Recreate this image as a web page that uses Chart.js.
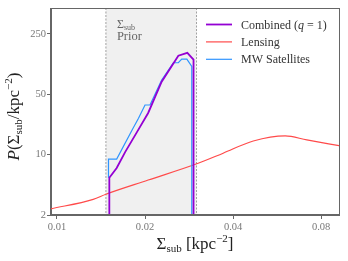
<!DOCTYPE html>
<html>
<head>
<meta charset="utf-8">
<script src="https://cdn.jsdelivr.net/npm/chart.js@4/dist/chart.umd.min.js"></script>
<style>
  body { margin: 0; background: #ffffff; }
  canvas { display: block; }
</style>
</head>
<body>
<canvas id="myChart" width="348" height="261"></canvas>
<script>
// Tick values for both log axes
var xTicks = [0.01, 0.02, 0.04, 0.08];
var yTicks = [2, 10, 50, 250];

// Bounds of the Sigma_sub prior (shaded band)
var priorRange = [0.0147, 0.0300];

// Combined (q = 1)
var combinedX = [0.0151, 0.0151, 0.0160, 0.0171, 0.0187, 0.0205, 0.0228, 0.0260, 0.0279, 0.0293, 0.0293];
var combinedY = [1, 5.4, 7.0, 10.7, 17.9, 30.4, 70, 140, 151, 126, 1];

// Lensing
var lensingX = [0.0095, 0.0133, 0.0147, 0.0205, 0.0304, 0.0370, 0.0469, 0.0603, 0.0715, 0.0925];
var lensingY = [2.35, 3.04, 3.48, 5.08, 7.95, 10.4, 14.4, 16.5, 14.8, 12.7];

// MW Satellites
var satX = [0.0150, 0.0150, 0.0160, 0.0182, 0.0190, 0.0200, 0.0208, 0.0228, 0.0250, 0.0260, 0.0267, 0.0278, 0.0289, 0.0289];
var satY = [5.4, 8.9, 8.9, 20.2, 26.4, 37.6, 37.6, 73.4, 116, 116, 128, 128, 105, 1];

var serif = "'Liberation Serif', 'DejaVu Serif', serif";

//Turns two arrays into {x, y} points
function toPoints(xs, ys) {
    var out = [];
    for (var i = 0; i < xs.length; i++) {
        out.push({ x: xs[i], y: ys[i] });
    }
    return out;
}

//Draws a run of text pieces with different fonts / offsets
///align: "left" or "center"
function drawRuns(ctx, x, y, runs, align) {
    var total = 0;
    runs.forEach(function (r) {
        ctx.font = r.f;
        r.w = ctx.measureText(r.t).width;
        total += r.w;
    });
    var cx = align == "center" ? x - total / 2 : x;
    runs.forEach(function (r) {
        ctx.font = r.f;
        ctx.fillText(r.t, cx, y + (r.dy || 0));
        cx += r.w;
    });
}

var decorPlugin = {
    id: "decor",
    beforeDatasetsDraw: function (chart) {
        var ctx = chart.ctx;
        var area = chart.chartArea;
        var xs = chart.scales.x;
        var x0 = xs.getPixelForValue(priorRange[0]);
        var x1 = xs.getPixelForValue(priorRange[1]);

        ctx.save();
        ctx.fillStyle = "#f0f0f0";
        ctx.fillRect(x0, area.top, x1 - x0, area.bottom - area.top);

        ctx.strokeStyle = "#8a8a8a";
        ctx.lineWidth = 0.8;
        ctx.setLineDash([2, 1.5]);
        [x0, x1].forEach(function (px) {
            ctx.beginPath();
            ctx.moveTo(px, area.top);
            ctx.lineTo(px, area.bottom);
            ctx.stroke();
        });
        ctx.setLineDash([]);

        ctx.fillStyle = "#666666";
        ctx.textAlign = "left";
        ctx.textBaseline = "alphabetic";
        drawRuns(ctx, x0 + 11, 28, [
            { t: "Σ", f: "12px " + serif },
            { t: "sub", f: "8px " + serif, dy: 2 }
        ], "left");
        ctx.font = "12.5px " + serif;
        ctx.fillText("Prior", x0 + 11, 40);
        ctx.restore();
    },
    afterDraw: function (chart) {
        var ctx = chart.ctx;
        var area = chart.chartArea;
        ctx.save();

        //Axes box
        ctx.strokeStyle = "#666666";
        ctx.lineWidth = 1;
        ctx.strokeRect(Math.round(area.left) - 0.5, Math.round(area.top) + 0.5,
            Math.round(area.right - area.left) + 1, Math.round(area.bottom - area.top) - 1);

        //Legend
        var items = [
            { color: "#9400d3", width: 1.8, runs: [
                { t: "Combined (", f: "12px " + serif },
                { t: "q", f: "italic 12px " + serif },
                { t: " = 1)", f: "12px " + serif }
            ] },
            { color: "#ff4a4a", width: 1.2, runs: [{ t: "Lensing", f: "12px " + serif }] },
            { color: "#2f95ff", width: 1.2, runs: [{ t: "MW Satellites", f: "12px " + serif }] }
        ];
        ctx.textAlign = "left";
        ctx.textBaseline = "alphabetic";
        items.forEach(function (it, i) {
            var ly = 24.5 + i * 17.4;
            ctx.strokeStyle = it.color;
            ctx.lineWidth = it.width;
            ctx.beginPath();
            ctx.moveTo(206, ly);
            ctx.lineTo(232, ly);
            ctx.stroke();
            ctx.fillStyle = "#333333";
            drawRuns(ctx, 241, ly + 4, it.runs, "left");
        });

        //Axis titles
        ctx.fillStyle = "#222222";
        drawRuns(ctx, (area.left + area.right) / 2, 249, [
            { t: "Σ", f: "17px " + serif },
            { t: "sub", f: "11px " + serif, dy: 3 },
            { t: " [kpc", f: "17px " + serif },
            { t: "−2", f: "11px " + serif, dy: -7 },
            { t: "]", f: "17px " + serif }
        ], "center");

        ctx.translate(19, (area.top + area.bottom) / 2 + 5);
        ctx.rotate(-Math.PI / 2);
        drawRuns(ctx, 0, 0, [
            { t: "P", f: "italic 17px " + serif },
            { t: "(Σ", f: "17px " + serif },
            { t: "sub", f: "11px " + serif, dy: 3 },
            { t: "/kpc", f: "17px " + serif },
            { t: "−2", f: "11px " + serif, dy: -7 },
            { t: ")", f: "17px " + serif }
        ], "center");
        ctx.restore();
    }
};

var chart = new Chart("myChart", {
    type: "line",
    data: {
        datasets: [{
            label: "Combined (q = 1)",
            data: toPoints(combinedX, combinedY),
            borderColor: "#9400d3",
            borderWidth: 1.8
        }, {
            label: "MW Satellites",
            data: toPoints(satX, satY),
            borderColor: "#2f95ff",
            borderWidth: 1.2
        }, {
            label: "Lensing",
            data: toPoints(lensingX, lensingY),
            borderColor: "#ff4a4a",
            borderWidth: 1.2,
            cubicInterpolationMode: "monotone"
        }]
    },
    options: {
        responsive: false,
        animation: false,
        devicePixelRatio: 1,
        elements: {
            point: { radius: 0 },
            line: { tension: 0, fill: false }
        },
        layout: { padding: { left: 0, right: 9, top: 8, bottom: 0 } },
        plugins: {
            legend: { display: false },
            tooltip: { enabled: false }
        },
        scales: {
            x: {
                type: "logarithmic",
                min: 0.00954,
                max: 0.0921,
                afterBuildTicks: function (s) {
                    s.ticks = xTicks.map(function (v) { return { value: v }; });
                },
                afterFit: function (s) { s.height = 46; },
                ticks: {
                    autoSkip: false,
                    maxRotation: 0,
                    padding: 2,
                    color: "#777777",
                    font: { family: serif, size: 10.5 },
                    callback: function (v) { return String(v); }
                },
                grid: { drawOnChartArea: false, tickLength: 4, color: "#666666" },
                border: { color: "#666666" }
            },
            y: {
                type: "logarithmic",
                min: 2,
                max: 500,
                afterBuildTicks: function (s) {
                    s.ticks = yTicks.map(function (v) { return { value: v }; });
                },
                afterFit: function (s) { s.width = 51; },
                ticks: {
                    autoSkip: false,
                    padding: 1,
                    color: "#777777",
                    font: { family: serif, size: 10.5 },
                    callback: function (v) { return String(v); }
                },
                grid: { drawOnChartArea: false, tickLength: 4, color: "#666666" },
                border: { color: "#666666" }
            }
        }
    },
    plugins: [decorPlugin]
});
</script>
</body>
</html>
